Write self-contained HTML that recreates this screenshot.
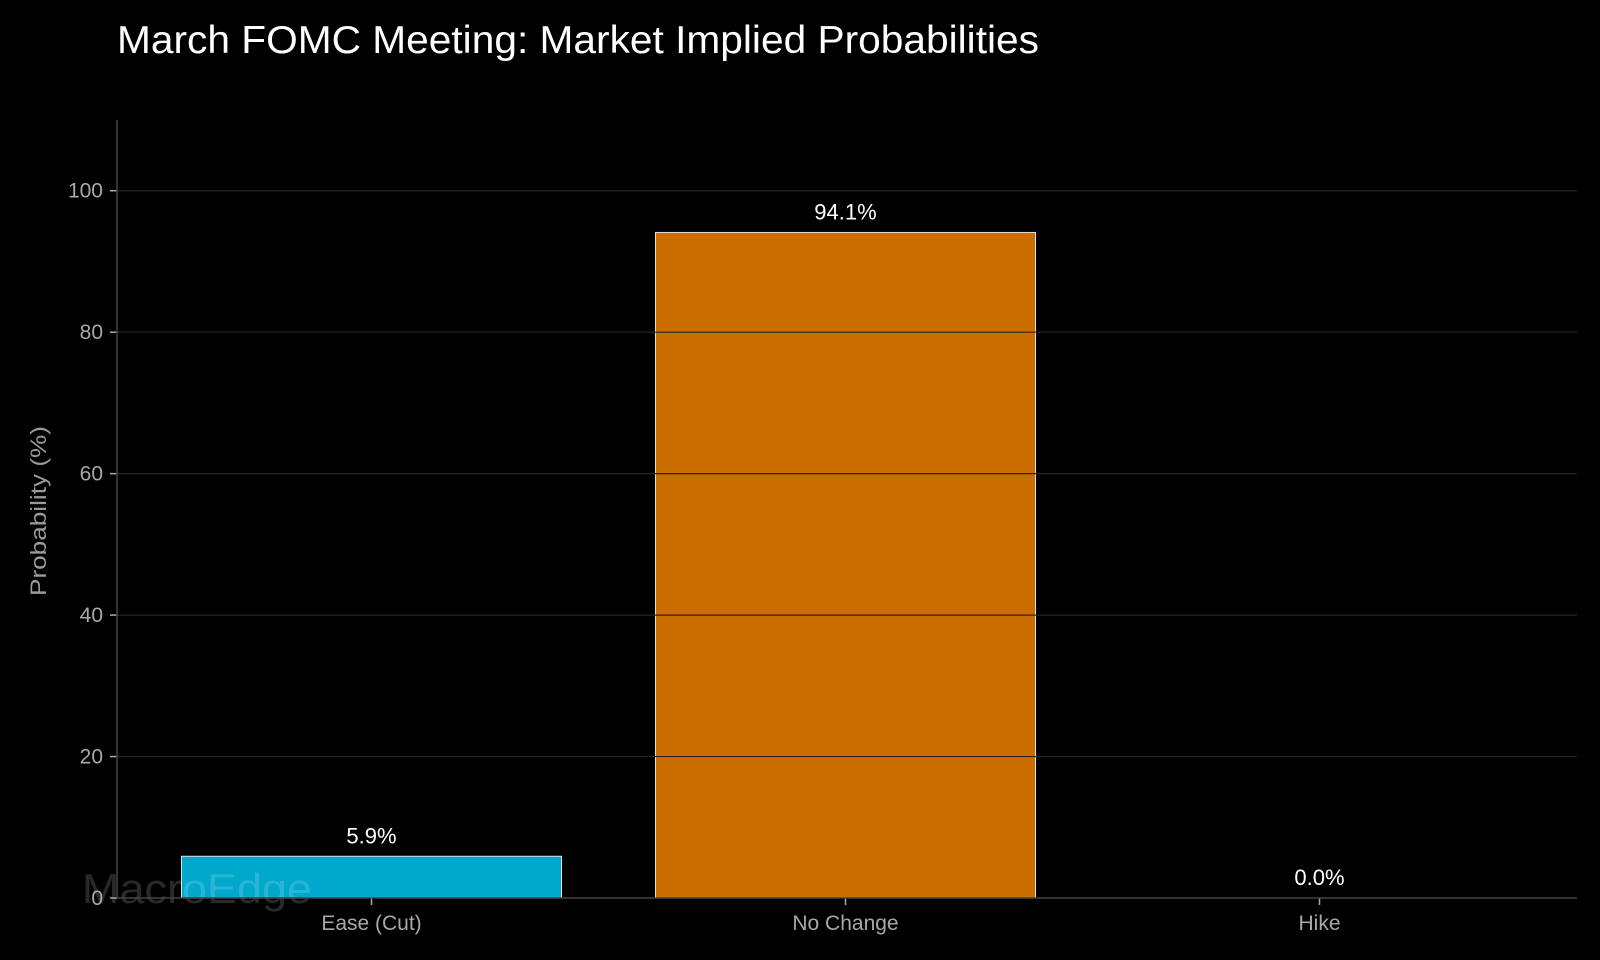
<!DOCTYPE html>
<html><head><meta charset="utf-8"><style>
html,body{margin:0;padding:0;background:#000;}
svg{display:block;font-family:"Liberation Sans",sans-serif;}
</style></head><body>
<svg id="chart" width="1600" height="960" viewBox="0 0 1600 960" xmlns="http://www.w3.org/2000/svg">
<rect width="1600" height="960" fill="#000"/>
<text x="117" y="53" fill="#fff" font-size="39" textLength="922" lengthAdjust="spacingAndGlyphs">March FOMC Meeting: Market Implied Probabilities</text>
<g id="bars"></g>
<text x="82" y="903" fill="#ffffff" fill-opacity="0.16" font-size="42" textLength="230" lengthAdjust="spacingAndGlyphs">MacroEdge</text>
<g id="grid"></g>
<g id="axes"></g>
<g id="labels"></g>
<text transform="translate(46,511) rotate(-90)" text-anchor="middle" fill="#9a9a9a" font-size="22" textLength="170" lengthAdjust="spacingAndGlyphs">Probability (%)</text>
</svg>
<script>
const categories = ["Ease (Cut)", "No Change", "Hike"];
const values = [5.9, 94.1, 0.0];
const valueLabels = ["5.9%", "94.1%", "0.0%"];
const barColors = ["#00a8cc", "#cc6d00", "#888888"];
const yTicks = [0, 20, 40, 60, 80, 100];

const NS = "http://www.w3.org/2000/svg";
const plotL = 117, plotR = 1577, plotTop = 120, plotBottom = 898;
const yMax = 110;
const y = v => plotBottom - (v / yMax) * (plotBottom - plotTop);
const x0 = 371.5, step = 474;
const xc = i => x0 + step * i;
const barW = 380;

function mk(tag, attrs, parent) {
  const el = document.createElementNS(NS, tag);
  for (const k in attrs) el.setAttribute(k, attrs[k]);
  parent.appendChild(el);
  return el;
}
const gBars = document.getElementById("bars");
const gGrid = document.getElementById("grid");
const gAxes = document.getElementById("axes");
const gLab = document.getElementById("labels");

categories.forEach((c, i) => {
  const top = y(values[i]);
  if (values[i] > 0) {
    const r = mk("rect", {x: xc(i) - barW / 2, y: top, width: barW, height: plotBottom - top, fill: barColors[i], stroke: "#e0e0e0", "stroke-width": 1}, gBars);
    
    
  }
  const t = mk("text", {x: xc(i), y: top - 13, "text-anchor": "middle", fill: "#fff", "font-size": 22}, gLab);
  t.textContent = valueLabels[i];
  
  
  const tk = mk("line", {x1: xc(i), x2: xc(i), y1: plotBottom, y2: plotBottom + 7, stroke: "#aaa", "stroke-width": 1.5}, gAxes);
  
  
  const xl = mk("text", {x: xc(i), y: plotBottom + 32, "text-anchor": "middle", fill: "#a8a8a8", "font-size": 21}, gAxes);
  xl.textContent = c;
  
  
});

yTicks.forEach(v => {
  if (v > 0) {
    const g = mk("line", {x1: plotL, x2: plotR, y1: y(v), y2: y(v), stroke: "#262626", "stroke-width": 1.2}, gGrid);
    
    
  }
  const tk = mk("line", {x1: plotL - 7, x2: plotL, y1: y(v), y2: y(v), stroke: "#aaa", "stroke-width": 1.5}, gAxes);
  
  
  const tl = mk("text", {x: plotL - 14, y: y(v) + 7, "text-anchor": "end", fill: "#a8a8a8", "font-size": 21}, gAxes);
  tl.textContent = v;
  
  
});

const ya = mk("line", {x1: plotL, x2: plotL, y1: plotTop, y2: plotBottom, stroke: "#444", "stroke-width": 1.5}, gAxes);


const xa = mk("line", {x1: plotL, x2: plotR, y1: plotBottom, y2: plotBottom, stroke: "#444", "stroke-width": 1.5}, gAxes);


</script>
</body></html>
